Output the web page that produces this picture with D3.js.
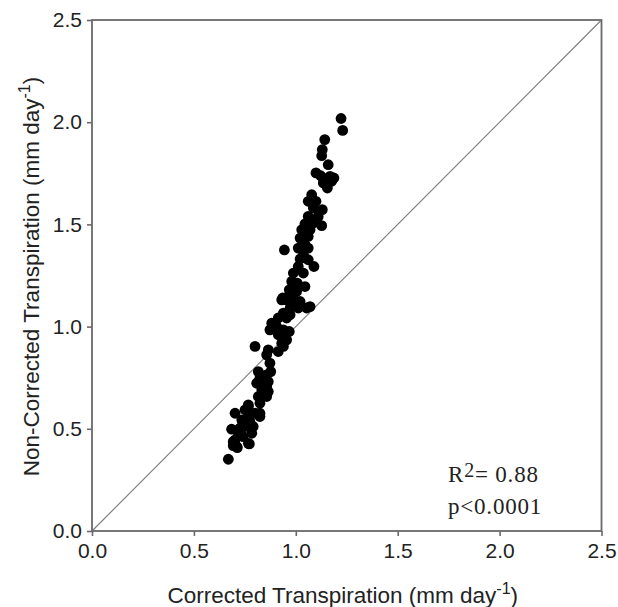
<!DOCTYPE html>
<html><head><meta charset="utf-8">
<script src="https://cdn.jsdelivr.net/npm/d3@7"></script>
<style>body{margin:0;background:#fff;} svg{display:block;}</style>
</head><body>
<script>
// Data (mm day^-1)
const correctedT = [
0.669,0.693,0.713,0.702,0.772,0.685,0.726,0.702,0.739,0.767,0.791,0.784,0.767,0.800,0.824,0.824,0.800,0.857,0.865,0.833,
0.816,0.841,0.877,0.857,0.816,0.865,0.857,0.865,0.914,0.873,0.931,0.955,0.914,0.882,0.939,0.968,0.914,0.972,1.012,1.053,
1.070,0.931,0.972,1.004,0.955,0.988,1.021,0.972,0.906,0.873,0.922,0.939,0.939,0.955,0.824,0.808,0.857,0.833,0.816,0.751,
0.735,0.775,0.751,0.718,0.742,0.824,0.767,0.710,0.767,0.693,1.078,1.061,1.099,1.086,1.130,1.110,1.061,1.045,1.086,1.127,
1.029,1.070,1.021,1.061,1.045,0.944,1.012,1.061,1.037,1.021,1.061,1.089,1.012,0.988,1.037,0.980,1.007,1.045,0.968,0.991,
0.936,0.980,1.222,1.230,1.142,1.130,1.127,1.159,1.099,1.122,1.143,1.168,1.187,1.135,1.155,1.176
];
const nonCorrectedT = [
0.351,0.418,0.408,0.446,0.426,0.498,0.503,0.576,0.535,0.560,0.511,0.478,0.609,0.576,0.576,0.625,0.903,0.658,0.682,0.666,
0.723,0.731,0.780,0.764,0.780,0.731,0.862,0.886,0.878,0.821,0.919,0.935,0.960,1.017,0.984,0.976,1.042,1.058,1.091,1.091,
1.098,1.131,1.164,1.172,1.131,1.123,1.123,1.091,1.000,0.984,0.968,0.903,1.066,1.042,0.748,0.723,0.707,0.691,0.658,0.593,
0.544,0.535,0.511,0.478,0.462,0.560,0.617,0.413,0.429,0.437,1.645,1.613,1.613,1.580,1.572,1.539,1.539,1.503,1.507,1.494,
1.474,1.474,1.433,1.441,1.401,1.375,1.384,1.384,1.352,1.331,1.327,1.294,1.294,1.262,1.262,1.221,1.213,1.196,1.180,1.164,
1.140,1.140,2.018,1.960,1.915,1.866,1.836,1.792,1.752,1.738,1.722,1.735,1.727,1.703,1.678,1.711
];
const xTickValues = [0.0, 0.5, 1.0, 1.5, 2.0, 2.5];
const yTickValues = [0.0, 0.5, 1.0, 1.5, 2.0, 2.5];
const axisDomain = [0, 2.5];
const oneToOne = [0, 2.5];
const xTitleText = "Corrected Transpiration (mm day";
const yTitleText = "Non-Corrected Transpiration (mm day";
const unitExponent = "-1";
const r2Value = "0.88";
const pText = "p<0.0001";

const W = 618, H = 607;
const m = {left: 92, top: 20, right: 16.5, bottom: 76};
const svg = d3.select("body").append("svg").attr("width", W).attr("height", H);

const x = d3.scaleLinear().domain(axisDomain).range([m.left, W - m.right]);
const y = d3.scaleLinear().domain(axisDomain).range([H - m.bottom, m.top]);

const tickFont = "'Liberation Sans', Arial, sans-serif";
const fmt = d3.format(".1f");

// 1:1 line
svg.append("line")
  .attr("x1", x(oneToOne[0])).attr("y1", y(oneToOne[0]))
  .attr("x2", x(oneToOne[1])).attr("y2", y(oneToOne[1]))
  .attr("stroke", "#7a7a7a").attr("stroke-width", 1.1);

// points
const pts = correctedT.map((c, i) => ({c, n: nonCorrectedT[i]}));
svg.append("g").selectAll("circle").data(pts).join("circle")
  .attr("cx", d => x(d.c)).attr("cy", d => y(d.n)).attr("r", 5.4)
  .attr("fill", "#000");

// axes
const gx = svg.append("g").attr("transform", `translate(0,${H - m.bottom})`)
  .call(d3.axisBottom(x).tickValues(xTickValues).tickFormat(fmt).tickSize(5).tickSizeOuter(0).tickPadding(7));
const gy = svg.append("g").attr("transform", `translate(${m.left},0)`)
  .call(d3.axisLeft(y).tickValues(yTickValues).tickFormat(fmt).tickSize(5).tickSizeOuter(0).tickPadding(5));
[gx, gy].forEach(g => {
  g.select(".domain").remove();
  g.selectAll(".tick line").attr("stroke", "#6a6a6a").attr("stroke-width", 1.6);
  g.selectAll(".tick text").attr("font-family", tickFont).attr("font-size", 21).attr("fill", "#222");
});

// frame
svg.append("rect")
  .attr("x", x(axisDomain[0])).attr("y", y(axisDomain[1]))
  .attr("width", x(axisDomain[1]) - x(axisDomain[0]))
  .attr("height", y(axisDomain[0]) - y(axisDomain[1]))
  .attr("fill", "none").attr("stroke", "#6a6a6a").attr("stroke-width", 1.8);

// axis titles
const xt = svg.append("text")
  .attr("x", (x(axisDomain[0]) + x(axisDomain[1])) / 2 - 4).attr("y", 603)
  .attr("text-anchor", "middle").attr("font-family", tickFont).attr("font-size", 22.5).attr("fill", "#222");
xt.append("tspan").text(xTitleText);
xt.append("tspan").attr("font-size", 16).attr("dy", -9).text(unitExponent);
xt.append("tspan").attr("dy", 9).text(")");

const yt = svg.append("text")
  .attr("transform", `translate(38.5,${(y(axisDomain[0]) + y(axisDomain[1])) / 2 + 1}) rotate(-90)`)
  .attr("text-anchor", "middle").attr("font-family", tickFont).attr("font-size", 22.5).attr("fill", "#222");
yt.append("tspan").text(yTitleText);
yt.append("tspan").attr("font-size", 16).attr("dy", -9).text(unitExponent);
yt.append("tspan").attr("dy", 9).text(")");

// statistics
const serif = "'Liberation Serif', 'Times New Roman', serif";
const st = svg.append("text").attr("x", 448).attr("y", 481.5)
  .attr("font-family", serif).attr("font-size", 23).attr("letter-spacing", 0.8).attr("fill", "#222");
st.append("tspan").text("R");
st.append("tspan").attr("font-size", 20).attr("dy", -4.7).text("2");
st.append("tspan").attr("dy", 4.7).text("= " + r2Value);
svg.append("text").attr("x", 448).attr("y", 514)
  .attr("font-family", serif).attr("font-size", 23).attr("letter-spacing", 0.8).attr("fill", "#222")
  .text(pText);
</script>
</body></html>
